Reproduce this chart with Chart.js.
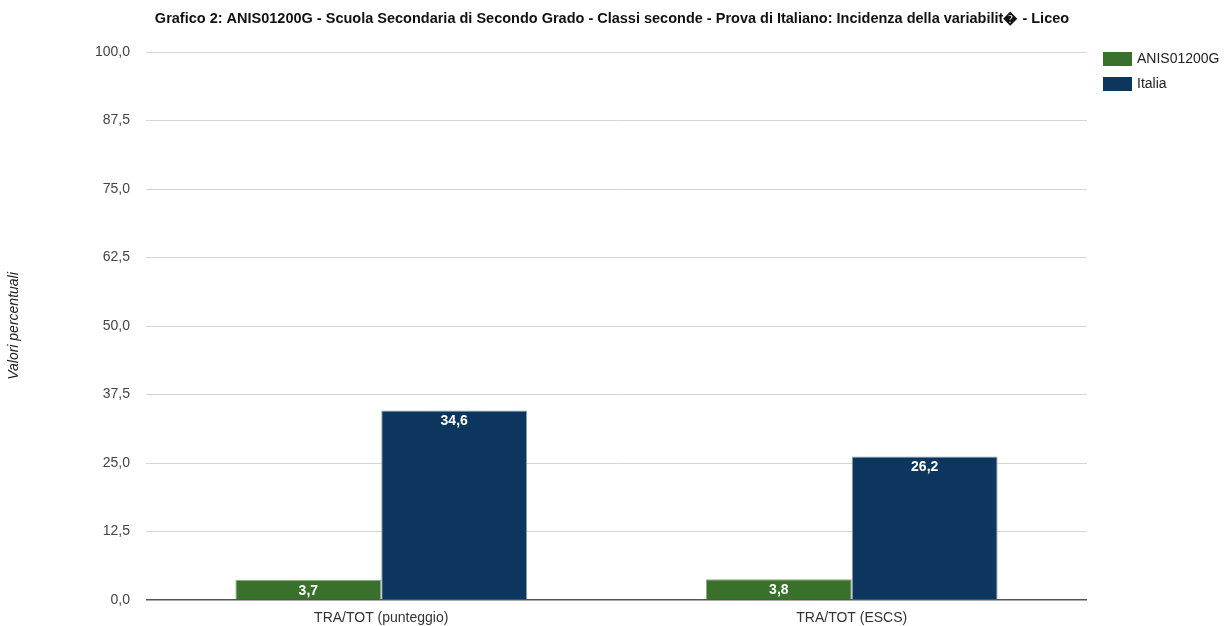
<!DOCTYPE html>
<html lang="it">
<head>
    <meta charset="UTF-8">
    <title>Grafico 2</title>
    <script src="https://cdn.jsdelivr.net/npm/chart.js"></script>
    <style>
        body { margin: 0; background: #fff; }
        #box { width: 1227px; height: 626px; }
    </style>
</head>
<body>
    <div id="box"><canvas id="grafico"></canvas></div>

    <script>
        const titolo = 'Grafico 2: ANIS01200G - Scuola Secondaria di Secondo Grado - Classi seconde - Prova di Italiano: Incidenza della variabilit\uFFFD - Liceo';
        const categorie = ['TRA/TOT (punteggio)', 'TRA/TOT (ESCS)'];
        const scuola = [3.7, 3.8];
        const italia = [34.6, 26.2];
        const nomiSerie = ['ANIS01200G', 'Italia'];
        const colori = ['#38702c', '#0c365e'];

        const virgola = v => v.toFixed(1).replace('.', ',');
        const FONT = '"Liberation Sans", Arial, sans-serif';

        // titolo, legenda ed etichette sulle barre
        const extra = {
            id: 'extra',
            afterDraw(chart) {
                const ctx = chart.ctx;
                ctx.save();
                ctx.fillStyle = '#111';
                ctx.font = 'bold 14.5px ' + FONT;
                ctx.textAlign = 'center';
                ctx.textBaseline = 'middle';
                ctx.fillText(titolo, 612, 19);

                // legenda
                ctx.textAlign = 'left';
                ctx.font = '14px ' + FONT;
                nomiSerie.forEach((nome, i) => {
                    const y = 52 + i * 25;
                    ctx.fillStyle = colori[i];
                    ctx.fillRect(1103, y, 29, 14);
                    ctx.fillStyle = '#222';
                    ctx.fillText(nome, 1137, y + 7);
                });

                // valori
                ctx.textAlign = 'center';
                ctx.font = 'bold 14px ' + FONT;
                ctx.fillStyle = '#fff';
                chart.data.datasets.forEach((ds, i) => {
                    chart.getDatasetMeta(i).data.forEach((bar, j) => {
                        ctx.fillText(virgola(ds.data[j]), bar.x, bar.y + 11);
                    });
                });
                ctx.restore();
            }
        };

        new Chart(document.getElementById('grafico'), {
            type: 'bar',
            data: {
                labels: categorie,
                datasets: [
                    { label: nomiSerie[0], data: scuola, backgroundColor: colori[0], borderColor: '#8fae86', borderWidth: 1 },
                    { label: nomiSerie[1], data: italia, backgroundColor: colori[1], borderColor: '#8d9fb2', borderWidth: 1 }
                ]
            },
            options: {
                responsive: true,
                maintainAspectRatio: false,
                animation: false,
                layout: { padding: { top: 52, right: 140, left: 0, bottom: 0 } },
                plugins: {
                    legend: { display: false },
                    tooltip: { enabled: false }
                },
                datasets: { bar: { categoryPercentage: 0.62, barPercentage: 1 } },
                scales: {
                    x: {
                        grid: { display: false },
                        border: { display: false },
                        ticks: { color: '#333', font: { family: FONT, size: 14 }, padding: 2 },
                        afterFit: s => { s.height = 26; }
                    },
                    y: {
                        min: 0,
                        max: 100,
                        ticks: {
                            stepSize: 12.5,
                            color: '#444',
                            padding: 16,
                            font: { family: FONT, size: 14 },
                            callback: v => virgola(v)
                        },
                        grid: {
                            drawTicks: false,
                            color: c => c.tick && c.tick.value === 0 ? '#555' : '#d4d4d4',
                            lineWidth: c => c.tick && c.tick.value === 0 ? 1.5 : 1
                        },
                        border: { display: false },
                        title: {
                            display: true,
                            text: 'Valori percentuali',
                            color: '#222',
                            font: { family: FONT, size: 14, style: 'italic' },
                            padding: { top: 6, bottom: 0 }
                        },
                        afterFit: s => { s.width = 146; }
                    }
                }
            },
            plugins: [extra]
        });
    </script>
</body>
</html>
